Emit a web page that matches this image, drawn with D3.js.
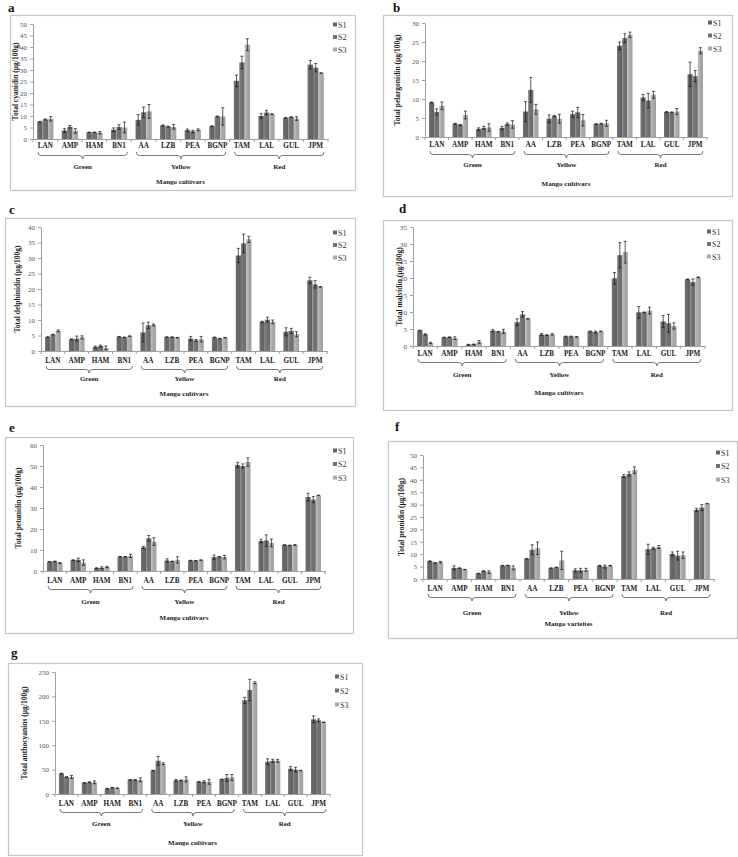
<!DOCTYPE html>
<html>
<head>
<meta charset="utf-8">
<script src="https://cdn.jsdelivr.net/npm/d3@7"></script>
<style>
  html, body { margin: 0; padding: 0; background: #fff; }
  svg { display: block; }
  text { font-family: "Liberation Serif", "Times New Roman", serif; }
</style>
</head>
<body>
<svg id="chart" width="738" height="857"></svg>
<script>
// ---------- DATA ----------
const categories = ["LAN","AMP","HAM","BN1","AA","LZB","PEA","BGNP","TAM","LAL","GUL","JPM"];
const groupNames = ["Green","Yellow","Red"];
const groupSizes = [4, 4, 4];
const seriesNames = ["S1","S2","S3"];

const cyanidin = [
  [7.5,3.7,2.9,4.0,8.3,5.9,3.8,5.6,25.3,10.0,9.2,32.3],
  [8.5,5.3,2.9,5.2,11.6,5.4,3.3,9.8,33.3,11.5,9.5,31.0],
  [8.8,3.5,2.7,5.0,12.0,5.3,4.0,9.8,41.0,10.8,8.9,28.7]
];
const cyanidinErr = [
  [0.2,0.8,0.1,0.8,2.3,0.2,0.5,0.1,2.5,1.0,0.1,1.8],
  [0.2,0.6,0.1,1.0,2.3,0.2,0.5,0.2,2.7,1.0,0.2,1.8],
  [1.0,1.0,0.5,2.3,3.0,1.0,0.4,3.8,2.6,0.2,0.8,0.1]
];
const pelargonidin = [
  [9.1,3.5,2.1,2.4,6.7,4.8,6.0,3.4,24.0,10.4,6.6,16.5],
  [6.6,3.2,2.4,3.4,12.4,5.5,6.5,3.5,26.0,9.6,6.5,16.0],
  [8.2,5.8,2.5,3.3,7.3,4.8,4.4,3.6,26.9,11.1,6.7,22.7]
];
const pelargonidinErr = [
  [0.1,0.1,0.3,0.4,2.6,1.0,0.8,0.1,1.0,0.8,0.1,3.2],
  [0.8,0.1,0.4,0.3,3.3,0.2,1.3,0.1,1.2,1.9,0.1,1.5],
  [1.0,1.0,1.0,1.0,1.3,1.2,1.5,0.8,0.7,0.9,0.8,0.8]
];
const delphinidin = [
  [4.5,3.8,1.3,4.6,6.0,4.5,4.0,4.4,30.8,9.4,6.2,22.8],
  [5.3,4.0,1.6,4.4,8.3,4.5,3.4,4.0,34.7,10.1,6.5,21.5],
  [6.5,4.4,1.0,4.8,8.4,4.3,3.8,4.3,36.0,9.4,5.4,20.7]
];
const delphinidinErr = [
  [0.1,0.1,0.3,0.1,3.0,0.1,0.7,0.1,2.3,0.2,1.3,1.0],
  [0.1,0.8,0.3,0.1,1.0,0.1,0.3,0.1,3.0,0.8,0.8,1.2],
  [0.3,0.5,0.6,0.1,0.3,0.1,0.9,0.1,1.0,0.6,0.8,0.1]
];
const malvidin = [
  [4.6,2.5,0.4,4.5,7.0,3.4,2.8,4.3,19.9,9.9,7.2,19.6],
  [3.4,2.6,0.5,4.2,9.3,3.2,2.8,4.1,26.7,9.9,6.7,18.8],
  [0.9,2.3,1.2,4.3,8.0,3.4,2.7,4.3,27.6,10.4,5.9,20.2]
];
const malvidinErr = [
  [0.1,0.1,0.1,0.3,1.0,0.3,0.1,0.1,1.7,1.7,1.8,0.1],
  [0.2,0.1,0.1,0.1,0.8,0.1,0.1,0.3,3.7,0.1,2.6,0.9],
  [0.2,0.4,0.4,0.6,0.1,0.2,0.1,0.1,3.2,1.0,0.9,0.1]
];
const petunidin = [
  [4.4,5.2,1.4,6.8,11.2,5.0,5.0,6.6,50.5,14.3,12.4,35.2],
  [4.6,5.3,1.5,6.8,15.6,4.6,4.9,6.8,50.0,14.5,12.2,34.0],
  [3.8,4.0,1.9,7.2,14.0,5.3,5.2,6.6,51.9,13.4,12.4,36.0]
];
const petunidinErr = [
  [0.1,0.1,0.1,0.1,0.5,0.8,0.1,1.0,1.3,0.8,0.1,1.8],
  [0.1,0.8,0.5,0.1,1.3,0.1,0.1,0.1,1.0,2.7,0.1,1.5],
  [0.2,1.3,0.3,0.8,1.8,1.5,0.1,0.8,2.0,1.8,0.2,0.1]
];
const peonidin = [
  [7.2,4.5,2.2,5.4,8.2,4.4,3.5,5.4,41.5,12.0,10.1,27.9],
  [6.5,4.4,3.2,5.5,11.8,4.7,3.5,5.0,42.4,12.4,9.4,28.8],
  [6.8,3.8,2.8,4.5,12.4,7.5,3.7,5.4,43.9,12.9,9.6,30.4]
];
const peonidinErr = [
  [0.1,0.8,0.1,0.1,0.1,0.1,0.6,0.1,0.6,2.0,0.8,0.6],
  [0.1,0.1,0.1,0.1,2.0,0.1,0.8,0.6,0.8,0.4,1.8,1.2],
  [0.3,0.1,0.5,0.8,2.5,3.7,0.6,0.1,1.3,0.6,1.3,0.1]
];
const anthocyanins = [
  [42,23,11,29,48,28,25,30,192,66,52,153],
  [35,24,13,29,68,28,25,33,213,68,50,151],
  [35,24,12,29,62,30,25,34,228,68,48,147]
];
const anthocyaninsErr = [
  [0.5,0.5,0.5,0.5,0.5,2,0.5,0.5,6,6,4,7],
  [0.5,1,0.5,0.5,9,0.5,2,7,22,3,5,3],
  [3,3,0.5,4,2,5,5,6,2,3,0.5,0.5]
];

// ---------- LAYOUT ----------
const seriesColors = ["#666666", "#717171", "#a9a9a9"];
const panels = [
  {id:"a", data:cyanidin, err:cyanidinErr, yTitle:"Total cyanidin (µg/100g)", xTitle:"Mango cultivars",
   yMax:50, yStep:5, box:[10,15,355,190], letter:[8,12], x:[33,328], y:[139,24],
   labY:148, braceY:152, groupY:169, titleY:184, yTitleX:16, leg:[333,25,12.5]},
  {id:"b", data:pelargonidin, err:pelargonidinErr, yTitle:"Total pelargonidin (µg/100g)", xTitle:"Mango cultivars",
   yMax:30, yStep:5, box:[383,15,732,196], letter:[393,12], x:[425,707], y:[137,23],
   labY:147, braceY:151, groupY:167, titleY:186, yTitleX:398, leg:[708,23,13]},
  {id:"c", data:delphinidin, err:delphinidinErr, yTitle:"Total delphinidin (µg/100g)", xTitle:"Mango cultivars",
   yMax:40, yStep:5, box:[5,218,355,406], letter:[9,214], x:[41,327], y:[351,227],
   labY:363, braceY:366, groupY:381, titleY:396, yTitleX:18, leg:[333,233,12.5]},
  {id:"d", data:malvidin, err:malvidinErr, yTitle:"Total malvidin (µg/100g)", xTitle:"Mango cultivars",
   yMax:35, yStep:5, box:[383,220,732,410], letter:[399,213], x:[413,705], y:[346,227],
   labY:356, braceY:359, groupY:377, titleY:395, yTitleX:400, leg:[707,232,12.5]},
  {id:"e", data:petunidin, err:petunidinErr, yTitle:"Total petunidin (µg/100g)", xTitle:"Mango cultivars",
   yMax:60, yStep:10, box:[5,437,353,633], letter:[9,432], x:[43,325], y:[571,445],
   labY:583, braceY:586, groupY:604, titleY:620, yTitleX:19, leg:[333,451,13.5]},
  {id:"f", data:peonidin, err:peonidinErr, yTitle:"Total peonidin (µg/100g)", xTitle:"Mango varieites",
   yMax:50, yStep:5, box:[388,441,737,638], letter:[395,431], x:[423,714], y:[579,455],
   labY:591, braceY:594, groupY:615, titleY:626, yTitleX:402, leg:[716,453,13.5]},
  {id:"g", data:anthocyanins, err:anthocyaninsErr, yTitle:"Total anthocyanins (µg/100g)", xTitle:"Mango cultivars",
   yMax:250, yStep:50, box:[8,663,362,855], letter:[11,657], x:[55,330], y:[794,672],
   labY:806, braceY:809, groupY:826, titleY:845, yTitleX:25, leg:[335,677,14]}
];

const svg = d3.select("#chart");
const defs = svg.append("defs");
seriesColors.forEach((c, i) => {
  const lg = defs.append("linearGradient").attr("id", "grad" + i)
    .attr("x1", "0").attr("x2", "1").attr("y1", "0").attr("y2", "0");
  lg.append("stop").attr("offset", "0").attr("stop-color", d3.color(c).brighter(0.35));
  lg.append("stop").attr("offset", "0.45").attr("stop-color", c);
  lg.append("stop").attr("offset", "1").attr("stop-color", d3.color(c).darker(0.15));
});

function bracePath(x0, x1, y) {
  const h = 3.5, r = 3, xm = (x0 + x1) / 2, y1 = y + h, tip = y1 + 3.5;
  return `M${x0},${y} Q${x0},${y1} ${x0 + r},${y1} L${xm - r},${y1} Q${xm},${y1} ${xm},${tip} ` +
         `Q${xm},${y1} ${xm + r},${y1} L${x1 - r},${y1} Q${x1},${y1} ${x1},${y}`;
}

panels.forEach(p => {
  const g = svg.append("g").attr("class", "panel-" + p.id);
  const [bx0, by0, bx1, by1] = p.box;
  g.append("rect").attr("x", bx0 + 0.5).attr("y", by0 + 0.5)
    .attr("width", bx1 - bx0).attr("height", by1 - by0)
    .attr("fill", "#fff").attr("stroke", "#c6c6c6").attr("stroke-width", 1.2);
  g.append("text").attr("x", p.letter[0]).attr("y", p.letter[1])
    .attr("font-size", 13).attr("font-weight", "bold").attr("fill", "#111").text(p.id);

  const xb = d3.scaleBand().domain(categories).range(p.x);
  const step = xb.step();
  const clusterW = step * 0.66;
  const xs = d3.scaleBand().domain(seriesNames).range([0, clusterW]);
  const y = d3.scaleLinear().domain([0, p.yMax]).range(p.y);

  // y axis
  const ya = g.append("g").attr("transform", `translate(${p.x[0]},0)`)
    .call(d3.axisLeft(y).tickValues(d3.range(0, p.yMax + 0.001, p.yStep)).tickSize(3).tickPadding(3).tickSizeOuter(0));
  ya.select(".domain").attr("stroke", "#a0a0a0");
  ya.selectAll(".tick line").attr("stroke", "#a0a0a0");
  ya.selectAll(".tick text").attr("font-size", 7).attr("fill", "#555")
    .attr("font-family", "Liberation Serif, serif");

  // bars
  seriesNames.forEach((s, si) => {
    g.append("g").selectAll("rect").data(categories).join("rect")
      .attr("x", c => xb(c) + (step - clusterW) / 2 + xs(s))
      .attr("width", xs.bandwidth())
      .attr("y", (c, i) => y(p.data[si][i]))
      .attr("height", (c, i) => y(0) - y(p.data[si][i]))
      .attr("fill", `url(#grad${si})`);
  });
  // error bars
  seriesNames.forEach((s, si) => {
    const eg = g.append("g").attr("stroke", "#111").attr("stroke-width", 0.7);
    categories.forEach((c, i) => {
      const e = p.err[si][i];
      if (!e) return;
      const cx = xb(c) + (step - clusterW) / 2 + xs(s) + xs.bandwidth() / 2;
      const v = p.data[si][i];
      const yt = y(v + e), yb = y(Math.max(0, v - e));
      eg.append("line").attr("x1", cx).attr("x2", cx).attr("y1", yt).attr("y2", yb);
      eg.append("line").attr("x1", cx - 1.5).attr("x2", cx + 1.5).attr("y1", yt).attr("y2", yt);
      eg.append("line").attr("x1", cx - 1.5).attr("x2", cx + 1.5).attr("y1", yb).attr("y2", yb);
    });
  });

  // x axis
  const xa = g.append("g").attr("transform", `translate(0,${p.y[0]})`)
    .call(d3.axisBottom(xb).tickSize(0).tickPadding(p.labY - p.y[0] - 5).tickSizeOuter(0));
  xa.select(".domain").attr("stroke", "#a0a0a0");
  xa.selectAll(".tick text").attr("font-size", 7.2).attr("font-weight", "bold").attr("fill", "#1a1a1a")
    .attr("font-family", "Liberation Serif, serif");
  g.append("g").selectAll("line").data(d3.range(categories.length + 1)).join("line")
    .attr("x1", i => p.x[0] + i * step).attr("x2", i => p.x[0] + i * step)
    .attr("y1", p.y[0]).attr("y2", p.y[0] + 3).attr("stroke", "#a0a0a0");

  // braces and group labels
  let start = 0;
  groupNames.forEach((gn, gi) => {
    const c0 = categories[start], c1 = categories[start + groupSizes[gi] - 1];
    const x0 = xb(c0) + 5, x1 = xb(c1) + step - 4;
    g.append("path").attr("d", bracePath(x0, x1, p.braceY))
      .attr("fill", "none").attr("stroke", "#555").attr("stroke-width", 0.8);
    g.append("text").attr("x", (x0 + x1) / 2).attr("y", p.groupY)
      .attr("text-anchor", "middle").attr("font-size", 7).attr("font-weight", "bold").attr("fill", "#1a1a1a")
      .text(gn);
    start += groupSizes[gi];
  });

  // x title
  g.append("text").attr("x", (p.x[0] + p.x[1]) / 2).attr("y", p.titleY)
    .attr("text-anchor", "middle").attr("font-size", 7).attr("font-weight", "bold").attr("fill", "#1a1a1a")
    .text(p.xTitle);

  // y title
  g.append("text").attr("transform", `translate(${p.yTitleX},${(p.y[0] + p.y[1]) / 2}) rotate(-90)`)
    .attr("text-anchor", "middle").attr("dominant-baseline", "middle")
    .attr("font-size", 7.5).attr("font-weight", "bold").attr("fill", "#1a1a1a")
    .text(p.yTitle);

  // legend
  const [lx, ly, ldy] = p.leg;
  seriesNames.forEach((s, si) => {
    g.append("rect").attr("x", lx).attr("y", ly + si * ldy - 2.5).attr("width", 4).attr("height", 4)
      .attr("fill", seriesColors[si]);
    g.append("text").attr("x", lx + 5).attr("y", ly + si * ldy + 2.5)
      .attr("font-size", 8).attr("fill", "#333").text(s);
  });
});
</script>
</body>
</html>
